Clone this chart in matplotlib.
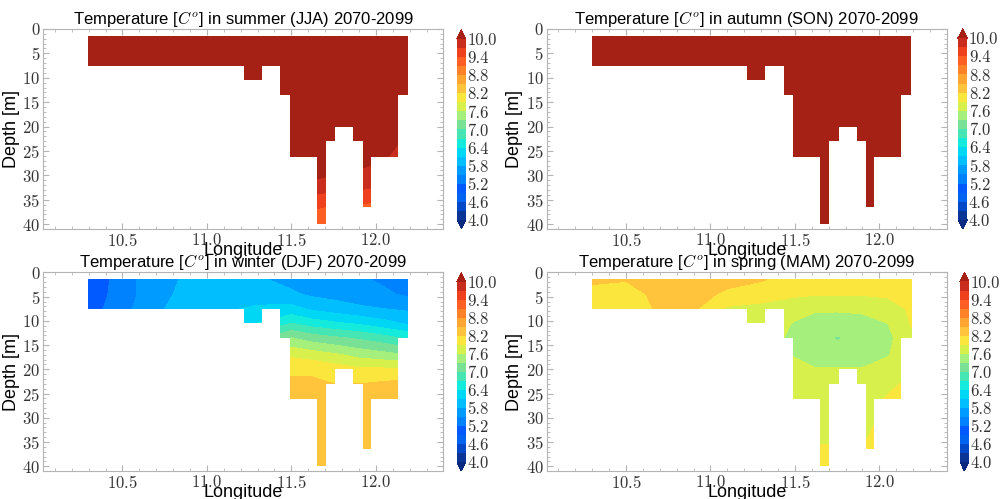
import numpy as np
import matplotlib
matplotlib.use('Agg')
import matplotlib.pyplot as plt
from matplotlib.colors import ListedColormap
from matplotlib.ticker import AutoMinorLocator

plt.rcParams['mathtext.fontset'] = 'cm'
plt.rcParams['axes.formatter.use_mathtext'] = True

# grid of the section (longitude nodes, depth nodes)
lon = [10.3, 10.5, 10.7, 10.9, 11.1, 11.3, 11.5, 11.62, 11.75, 11.9, 12.05, 12.19]
depth = [1.5, 4.5, 7.5, 10.5, 13.5, 17, 20, 23, 26.5, 31, 36.5, 40]

# bottom of the model section (step profile)
bathy_lon = [10.3, 11.218, 11.324, 11.433, 11.489, 11.651, 11.704, 11.759,
             11.866, 11.921, 11.971, 12.129, 12.19]
bathy_bottom = [7.5, 10.5, 7.5, 13.5, 26.2, 40.0, 23.0, 20.0, 23.0, 36.4, 26.2, 13.5]

# temperature [deg C], rows = depth, cols = lon
temp_jja = [
    [10.9, 10.9, 10.9, 10.9, 10.9, 10.9, 10.9, 10.9, 10.9, 10.9, 10.9, 10.9],
    [10.9, 10.9, 10.9, 10.9, 10.9, 10.9, 10.9, 10.9, 10.9, 10.9, 10.9, 10.9],
    [10.9, 10.9, 10.9, 10.9, 10.9, 10.9, 10.9, 10.9, 10.9, 10.9, 10.9, 10.9],
    [10.8, 10.8, 10.8, 10.8, 10.8, 10.8, 10.8, 10.8, 10.8, 10.8, 10.8, 10.8],
    [10.8, 10.8, 10.8, 10.8, 10.8, 10.8, 10.8, 10.8, 10.8, 10.8, 10.8, 10.8],
    [10.8, 10.8, 10.8, 10.8, 10.8, 10.8, 10.8, 10.8, 10.8, 10.8, 10.8, 10.8],
    [10.8, 10.8, 10.8, 10.8, 10.8, 10.8, 10.7, 10.6, 10.5, 10.4, 10.3, 10.2],
    [10.6, 10.6, 10.6, 10.6, 10.6, 10.6, 10.5, 10.4, 10.3, 10.2, 10.1, 9.95],
    [10.4, 10.4, 10.4, 10.4, 10.4, 10.4, 10.3, 10.2, 10.15, 10.1, 10.02, 9.85],
    [10.2, 10.2, 10.2, 10.2, 10.2, 10.2, 10.05, 10.0, 9.95, 9.9, 9.8, 9.7],
    [10.0, 10.0, 10.0, 10.0, 10.0, 10.0, 9.6, 9.45, 9.35, 9.35, 9.25, 9.3],
    [9.9, 9.9, 9.9, 9.9, 9.9, 9.9, 9.3, 9.2, 9.2, 9.2, 9.2, 9.2],
]

temp_son = [
    [11.0, 11.0, 11.0, 11.0, 11.0, 11.0, 11.0, 11.0, 11.0, 11.0, 11.0, 11.0],
    [11.0, 11.0, 11.0, 11.0, 11.0, 11.0, 11.0, 11.0, 11.0, 11.0, 11.0, 11.0],
    [11.0, 11.0, 11.0, 11.0, 11.0, 11.0, 11.0, 11.0, 11.0, 11.0, 11.0, 11.0],
    [11.0, 11.0, 11.0, 11.0, 11.0, 11.0, 11.0, 11.0, 11.0, 11.0, 11.0, 11.0],
    [11.0, 11.0, 11.0, 11.0, 11.0, 11.0, 11.0, 11.0, 11.0, 11.0, 11.0, 11.0],
    [11.0, 11.0, 11.0, 11.0, 11.0, 11.0, 11.0, 11.0, 11.0, 11.0, 11.0, 11.0],
    [11.0, 11.0, 11.0, 11.0, 11.0, 11.0, 11.0, 11.0, 11.0, 11.0, 11.0, 11.0],
    [11.0, 11.0, 11.0, 11.0, 11.0, 11.0, 11.0, 11.0, 11.0, 11.0, 11.0, 11.0],
    [11.0, 11.0, 11.0, 11.0, 11.0, 11.0, 11.0, 11.0, 11.0, 11.0, 11.0, 11.0],
    [11.0, 11.0, 11.0, 11.0, 11.0, 11.0, 11.0, 11.0, 11.0, 11.0, 11.0, 11.0],
    [11.0, 11.0, 11.0, 11.0, 11.0, 11.0, 11.0, 11.0, 11.0, 11.0, 11.0, 11.0],
    [11.0, 11.0, 11.0, 11.0, 11.0, 11.0, 11.0, 11.0, 11.0, 11.0, 11.0, 11.0],
]

temp_djf = [
    [4.95, 5.35, 5.7, 5.85, 5.95, 5.85, 5.7, 5.65, 5.6, 5.55, 5.45, 5.4],
    [5.0, 5.35, 5.7, 5.9, 6.0, 5.95, 5.85, 5.75, 5.7, 5.65, 5.55, 5.45],
    [5.05, 5.4, 5.75, 5.95, 6.05, 6.15, 6.2, 6.05, 5.95, 5.85, 5.8, 5.75],
    [5.3, 5.6, 6.0, 6.2, 6.3, 6.4, 6.7, 6.55, 6.45, 6.35, 6.2, 6.05],
    [5.6, 5.9, 6.3, 6.5, 6.7, 6.9, 7.3, 7.15, 7.05, 6.95, 6.8, 6.65],
    [6.0, 6.3, 6.7, 6.9, 7.1, 7.4, 7.85, 7.75, 7.65, 7.5, 7.4, 7.3],
    [6.5, 6.8, 7.2, 7.4, 7.6, 7.9, 8.1, 8.15, 8.05, 7.95, 7.95, 7.95],
    [7.0, 7.3, 7.6, 7.8, 8.0, 8.15, 8.3, 8.25, 8.2, 8.2, 8.25, 8.3],
    [7.4, 7.7, 7.9, 8.0, 8.2, 8.3, 8.35, 8.35, 8.35, 8.35, 8.35, 8.35],
    [8.4, 8.4, 8.4, 8.4, 8.4, 8.4, 8.4, 8.4, 8.4, 8.4, 8.4, 8.4],
    [8.4, 8.4, 8.4, 8.4, 8.4, 8.4, 8.4, 8.4, 8.4, 8.4, 8.4, 8.4],
    [8.4, 8.4, 8.4, 8.4, 8.4, 8.4, 8.4, 8.4, 8.4, 8.4, 8.4, 8.4],
]

temp_mam = [
    [8.25, 8.22, 8.3, 8.3, 8.28, 8.22, 8.1, 8.05, 8.0, 8.0, 8.0, 8.0],
    [8.1, 8.05, 8.3, 8.3, 8.15, 8.05, 7.95, 7.92, 7.92, 7.92, 7.95, 7.97],
    [8.05, 8.0, 8.25, 8.25, 7.85, 7.8, 7.7, 7.65, 7.65, 7.68, 7.75, 7.95],
    [8.0, 8.0, 8.1, 8.0, 7.8, 7.75, 7.58, 7.45, 7.42, 7.45, 7.6, 7.92],
    [7.9, 7.9, 7.9, 7.85, 7.8, 7.7, 7.55, 7.38, 7.28, 7.38, 7.52, 7.85],
    [7.8, 7.8, 7.8, 7.8, 7.75, 7.7, 7.58, 7.45, 7.4, 7.45, 7.58, 7.8],
    [7.8, 7.8, 7.8, 7.8, 7.75, 7.72, 7.68, 7.62, 7.62, 7.62, 7.72, 7.85],
    [7.8, 7.8, 7.8, 7.8, 7.78, 7.75, 7.72, 7.72, 7.72, 7.75, 7.85, 7.95],
    [7.8, 7.8, 7.8, 7.8, 7.8, 7.8, 7.75, 7.75, 7.75, 7.8, 7.93, 8.0],
    [7.85, 7.85, 7.85, 7.85, 7.85, 7.85, 7.8, 7.8, 7.8, 7.85, 7.95, 8.0],
    [7.9, 7.9, 7.9, 7.9, 7.9, 7.9, 7.92, 7.92, 7.92, 7.9, 7.95, 8.0],
    [7.95, 7.95, 7.95, 7.95, 7.95, 7.95, 7.95, 7.95, 7.95, 7.95, 7.95, 7.95],
]

seasons = ['summer (JJA)', 'autumn (SON)', 'winter (DJF)', 'spring (MAM)']
temps = [temp_jja, temp_son, temp_djf, temp_mam]

levels = np.arange(4.0, 10.01, 0.3)
cbar_ticks = np.arange(4.0, 10.01, 0.6)

# banded rainbow palette
band_colors = ['#0a3596', '#0048c8', '#0064f0', '#005aff', '#0082ff',
               '#009bff', '#00beff', '#00d7f5', '#14ebdc', '#46e6b4',
               '#78e196', '#a5f07d', '#d7f04b', '#fae63c', '#ffc33c',
               '#ffa532', '#ff8228', '#ff5f23', '#f0411e', '#c82d1e']
cmap = ListedColormap(band_colors)
cmap.set_over('#a52015')
cmap.set_under('#0a2a80')

fig = plt.figure(figsize=(10.01, 4.99), dpi=100)

# axes / colorbar boxes in figure fraction
ax_boxes = [[0.043, 0.541, 0.400, 0.401], [0.546, 0.541, 0.400, 0.401],
            [0.043, 0.056, 0.400, 0.398], [0.546, 0.056, 0.400, 0.398]]
cax_boxes = [[0.4565, 0.541, 0.009, 0.399], [0.957, 0.541, 0.0095, 0.401],
             [0.4565, 0.056, 0.009, 0.397], [0.959, 0.056, 0.009, 0.398]]

spine_gray = '#b4b4b4'
tick_color = '#333333'

# sea-floor mask outline, widened a hair so no coloured seam shows at the ends
mask_x = [bathy_lon[0] - 0.02] + bathy_lon[1:-1] + [bathy_lon[-1] + 0.02]
mask_y = bathy_bottom + [bathy_bottom[-1]]

for season, temp, box, cbox in zip(seasons, temps, ax_boxes, cax_boxes):
    ax = fig.add_axes(box)
    cs = ax.contourf(lon, depth, np.array(temp), levels=levels, cmap=cmap,
                     extend='both', zorder=1)
    # blank everything below the sea floor
    ax.fill_between(mask_x, mask_y, 45, step='post', color='white',
                    lw=0, zorder=1.5)
    ax.set_xlim(10.03, 12.40)
    ax.set_ylim(41, 0)
    ax.set_xticks([10.5, 11.0, 11.5, 12.0])
    ax.set_yticks(range(0, 41, 5))
    ax.xaxis.set_minor_locator(AutoMinorLocator(5))
    ax.yaxis.set_minor_locator(AutoMinorLocator(5))
    ax.set_axisbelow(False)
    ax.tick_params(which='both', direction='in', top=True, right=True,
                   color=spine_gray, labelcolor=tick_color,
                   labelfontfamily='cmr10', labelsize=12, pad=2)
    ax.tick_params(which='major', length=4)
    ax.tick_params(which='minor', length=2)
    for sp in ax.spines.values():
        sp.set_color(spine_gray)
    ax.set_title('Temperature [$C^o$] in ' + season + ' 2070-2099',
                 family='Liberation Sans', fontsize=12, pad=2)
    ax.set_xlabel('Longitude', family='Liberation Sans', fontsize=13, labelpad=-5)
    ax.set_ylabel('Depth [m]', family='Liberation Sans', fontsize=13, labelpad=2)

    cax = fig.add_axes(cbox)
    cb = fig.colorbar(cs, cax=cax, ticks=cbar_ticks)
    cb.outline.set_visible(False)
    cb.ax.set_yticklabels(['%.1f' % t for t in cbar_ticks])
    cb.ax.tick_params(length=0, pad=1, labelsize=12, labelcolor=tick_color,
                      labelfontfamily='cmr10')

fig.savefig('out.png', dpi=100)
